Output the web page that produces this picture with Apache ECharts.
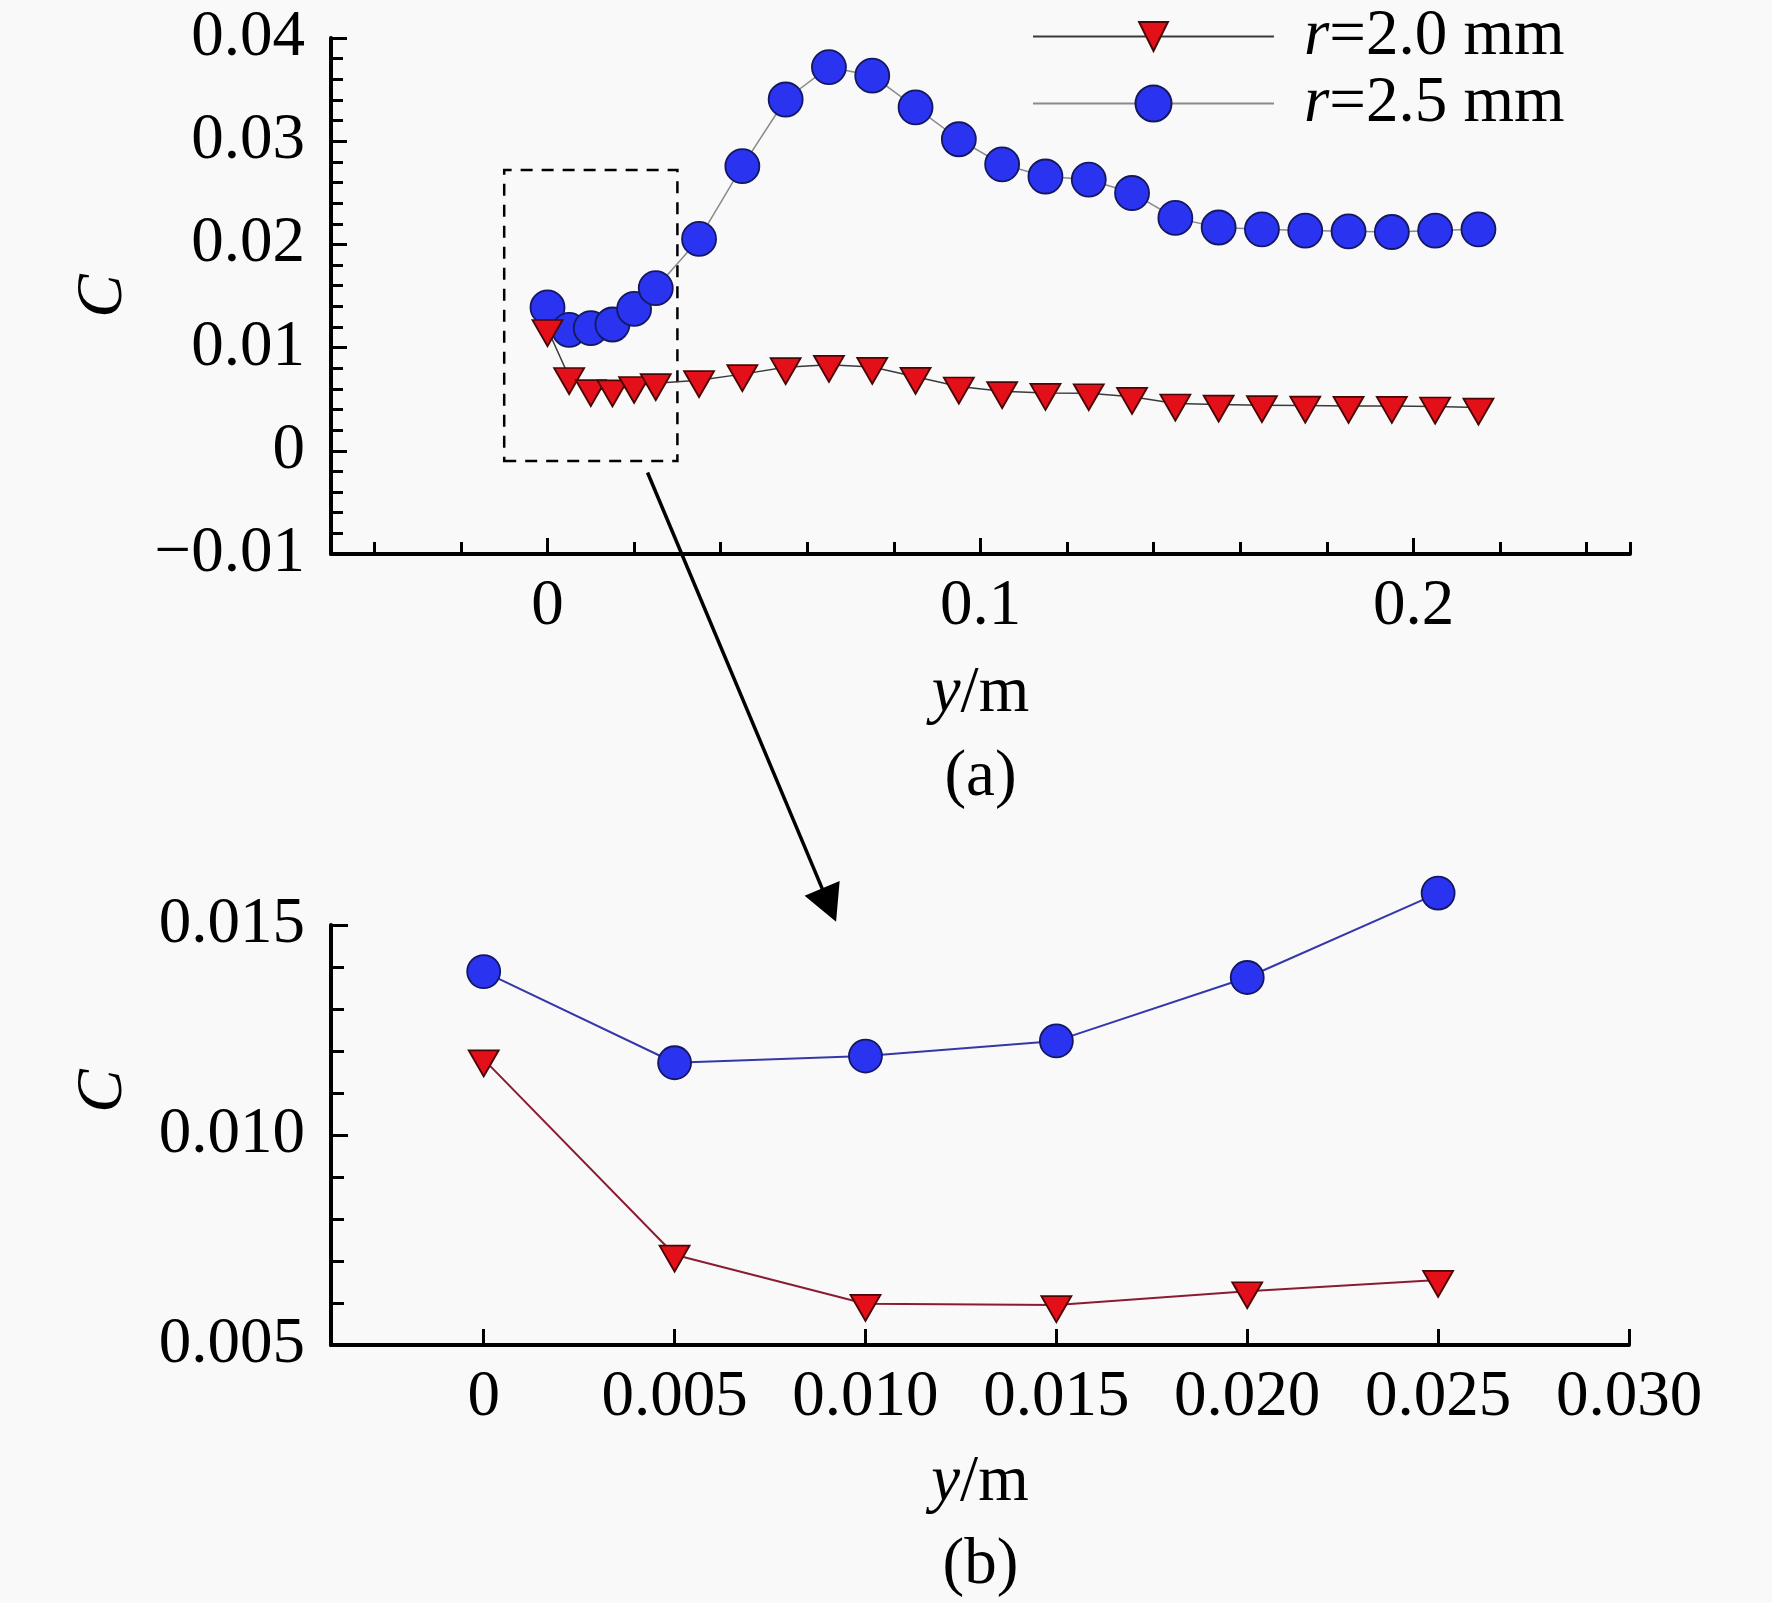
<!DOCTYPE html>
<html>
<head>
<meta charset="utf-8">
<script src="https://cdn.jsdelivr.net/npm/echarts@6/dist/echarts.min.js"></script>
<style>
html,body{margin:0;padding:0;background:#f9f9f9;}
#c{width:1772px;height:1603px;}
</style>
</head>
<body>
<div id="c"></div>
<script>
// ---- data ----
const yPositions = [0, 0.005, 0.010, 0.015, 0.020, 0.025, 0.035, 0.045, 0.055, 0.065, 0.075, 0.085, 0.095, 0.105, 0.115, 0.125, 0.135, 0.145, 0.155, 0.165, 0.175, 0.185, 0.195, 0.205, 0.215];
const cR20 = [0.0118, 0.00715, 0.00598, 0.00595, 0.00628, 0.00655, 0.00684, 0.00743, 0.0081, 0.00833, 0.00813, 0.00717, 0.00623, 0.00578, 0.00561, 0.00558, 0.00523, 0.00458, 0.00448, 0.00442, 0.00438, 0.00435, 0.00435, 0.00429, 0.00419];
const cR25 = [0.01389, 0.01172, 0.01188, 0.01224, 0.01375, 0.01576, 0.02053, 0.02758, 0.03404, 0.03718, 0.03635, 0.03328, 0.03019, 0.02776, 0.02658, 0.02628, 0.02498, 0.02257, 0.02164, 0.02146, 0.02134, 0.02127, 0.0212, 0.02134, 0.02146];
const zoomCount = 6; // panel (b) shows the first six positions
const seriesNames = ['r=2.0 mm', 'r=2.5 mm'];
const topXLabelValues = [0, 0.1, 0.2];
const topXMinorTicks = [-0.04, -0.02, 0.02, 0.04, 0.06, 0.08, 0.12, 0.14, 0.16, 0.18, 0.22, 0.24, 0.25];
const botXLabelValues = [0, 0.005, 0.010, 0.015, 0.020, 0.025, 0.030];
const zoomBox = [[-0.01, -0.001], [0.03, 0.0272]];
const arrowFrom = [0.0231, -0.0021];   // panel (a) coords
const arrowTo = [0.00923, 0.01508];    // panel (b) coords

const FONT = '"Liberation Serif", "Times New Roman", serif';
const FS = 65;

function pairs(xs, ys) { return ys.map((v, i) => [xs[i], v]); }

const tri = 'path://M0,0L30,0L15,26Z';

function axisLine() { return { show: true, onZero: false, lineStyle: { color: '#000', width: 4 } }; }
function labelStyle(extra) {
  return Object.assign({ color: '#000', fontSize: FS, fontFamily: FONT }, extra);
}
const nameRich = { i: { fontStyle: 'italic', fontSize: FS, fontFamily: FONT, color: '#000' } };

const chart = echarts.init(document.getElementById('c'), null, { renderer: 'canvas' });

const option = {
  backgroundColor: '#f9f9f9',
  animation: false,
  grid: [
    { left: 331, top: 38, right: 142, bottom: 1049 },
    { left: 331, top: 925, right: 143, bottom: 258 }
  ],
  xAxis: [
    {
      gridIndex: 0, type: 'value', min: -0.05, max: 0.25, position: 'bottom',
      axisLine: axisLine(),
      axisTick: { show: true, inside: true, length: 16, customValues: topXLabelValues, lineStyle: { color: '#000', width: 3 } },
      axisLabel: labelStyle({ customValues: topXLabelValues, margin: 20, formatter: v => v === 0 ? '0' : v.toFixed(1) }),
      splitLine: { show: false },
      name: '{i|y}/m', nameLocation: 'middle', nameGap: 107,
      nameTextStyle: labelStyle({ rich: nameRich })
    },
    {
      gridIndex: 0, type: 'value', min: -0.05, max: 0.25, position: 'bottom',
      axisLine: { show: false, onZero: false },
      axisTick: { show: true, inside: true, length: 12, customValues: topXMinorTicks, lineStyle: { color: '#000', width: 3 } },
      axisLabel: { show: false },
      splitLine: { show: false }
    },
    {
      gridIndex: 1, type: 'value', min: -0.004, max: 0.030, position: 'bottom',
      axisLine: axisLine(),
      axisTick: { show: true, inside: true, length: 16, customValues: botXLabelValues, lineStyle: { color: '#000', width: 3 } },
      axisLabel: labelStyle({ customValues: botXLabelValues, margin: 20, formatter: v => v === 0 ? '0' : v.toFixed(3) }),
      splitLine: { show: false },
      name: '{i|y}/m', nameLocation: 'middle', nameGap: 105,
      nameTextStyle: labelStyle({ rich: nameRich })
    }
  ],
  yAxis: [
    {
      gridIndex: 0, type: 'value', min: -0.01, max: 0.04, interval: 0.01,
      axisLine: axisLine(),
      axisTick: { show: true, inside: true, length: 16, lineStyle: { color: '#000', width: 3 } },
      minorTick: { show: true, splitNumber: 5, length: 12, lineStyle: { color: '#000', width: 3 } },
      axisLabel: labelStyle({ margin: 26, formatter: v => Math.abs(v) < 1e-9 ? '0' : (v < 0 ? '\u2212' + (-v).toFixed(2) : v.toFixed(2)) }),
      splitLine: { show: false },
      name: '{i|C}', nameLocation: 'middle', nameGap: 195,
      nameTextStyle: labelStyle({ rich: nameRich })
    },
    {
      gridIndex: 1, type: 'value', min: 0.005, max: 0.015, interval: 0.005,
      axisLine: axisLine(),
      axisTick: { show: true, inside: true, length: 17, lineStyle: { color: '#000', width: 3 } },
      minorTick: { show: true, splitNumber: 5, length: 13, lineStyle: { color: '#000', width: 3 } },
      axisLabel: labelStyle({ margin: 26, formatter: v => v.toFixed(3) }),
      splitLine: { show: false },
      name: '{i|C}', nameLocation: 'middle', nameGap: 195,
      nameTextStyle: labelStyle({ rich: nameRich, padding: [0, 0, 0, 88] })
    }
  ],
  legend: [
    {
      data: [seriesNames[0]], left: 1032, top: 4, padding: 0,
      itemWidth: 241, itemHeight: 36, selectedMode: false,
      textStyle: { color: '#000', fontSize: FS, fontFamily: FONT, padding: [0, 0, 0, 25], rich: nameRich },
      formatter: n => '{i|r}' + n.slice(1)
    },
    {
      data: [seriesNames[1]], left: 1032, top: 71, padding: 0,
      itemWidth: 241, itemHeight: 45, selectedMode: false,
      textStyle: { color: '#000', fontSize: FS, fontFamily: FONT, padding: [0, 0, 0, 25], rich: nameRich },
      formatter: n => '{i|r}' + n.slice(1)
    }
  ],
  series: [
    {
      name: seriesNames[1], type: 'line', xAxisIndex: 0, yAxisIndex: 0,
      data: pairs(yPositions, cR25),
      symbol: 'circle', symbolSize: 34, clip: false,
      itemStyle: { color: '#2a34f0', borderColor: '#141860', borderWidth: 1.8 },
      lineStyle: { color: '#8a8a8a', width: 1.5 },
      emphasis: { disabled: true }, silent: true,
      markArea: {
        silent: true,
        itemStyle: { color: 'rgba(0,0,0,0)', borderColor: '#000', borderWidth: 2.5, borderType: [12, 9] },
        data: [[{ coord: zoomBox[0] }, { coord: zoomBox[1] }]]
      }
    },
    {
      name: seriesNames[0], type: 'line', xAxisIndex: 0, yAxisIndex: 0,
      data: pairs(yPositions, cR20), clip: false,
      symbol: tri, symbolSize: [30, 26], symbolOffset: [0, 4], symbolKeepAspect: false,
      itemStyle: { color: '#e3101a', borderColor: '#4a0606', borderWidth: 1.8 },
      lineStyle: { color: '#3a3a3a', width: 1.5 },
      emphasis: { disabled: true }, silent: true
    },
    {
      name: seriesNames[1], type: 'line', xAxisIndex: 2, yAxisIndex: 1,
      data: pairs(yPositions, cR25).slice(0, zoomCount), clip: false,
      symbol: 'circle', symbolSize: 33,
      itemStyle: { color: '#2a34f0', borderColor: '#141860', borderWidth: 1.8 },
      lineStyle: { color: '#3438a8', width: 2 },
      emphasis: { disabled: true }, silent: true
    },
    {
      name: seriesNames[0], type: 'line', xAxisIndex: 2, yAxisIndex: 1,
      data: pairs(yPositions, cR20).slice(0, zoomCount), clip: false,
      symbol: tri, symbolSize: [30, 26], symbolOffset: [0, 4], symbolKeepAspect: false,
      itemStyle: { color: '#e3101a', borderColor: '#4a0606', borderWidth: 1.8 },
      lineStyle: { color: '#8a1c30', width: 2 },
      emphasis: { disabled: true }, silent: true
    }
  ]
};
chart.setOption(option);

// annotations: panel captions and the arrow linking the dashed box to panel (b)
const p0 = chart.convertToPixel({ xAxisIndex: 0, yAxisIndex: 0 }, arrowFrom);
const p1 = chart.convertToPixel({ xAxisIndex: 2, yAxisIndex: 1 }, arrowTo);
const dx = p1[0] - p0[0], dy = p1[1] - p0[1];
const len = Math.sqrt(dx * dx + dy * dy);
const ux = dx / len, uy = dy / len;
const headL = 36, headW = 19;
const bx = p1[0] - ux * headL, by = p1[1] - uy * headL;
const midX = (chart.convertToPixel({ xAxisIndex: 0 }, -0.05) + chart.convertToPixel({ xAxisIndex: 0 }, 0.25)) / 2;

chart.setOption({
  graphic: [
    { type: 'line', shape: { x1: p0[0], y1: p0[1], x2: bx + ux * 4, y2: by + uy * 4 }, style: { stroke: '#000', lineWidth: 3.5 }, silent: true },
    { type: 'polygon', shape: { points: [[p1[0], p1[1]], [bx - uy * headW, by + ux * headW], [bx + uy * headW, by - ux * headW]] }, style: { fill: '#000' }, silent: true },
    { type: 'text', x: midX, y: 778, style: { text: '(a)', fontSize: FS, fontFamily: FONT, fill: '#000', align: 'center', verticalAlign: 'middle' }, silent: true },
    { type: 'text', x: midX, y: 1566, style: { text: '(b)', fontSize: FS, fontFamily: FONT, fill: '#000', align: 'center', verticalAlign: 'middle' }, silent: true }
  ]
});
</script>
</body>
</html>
